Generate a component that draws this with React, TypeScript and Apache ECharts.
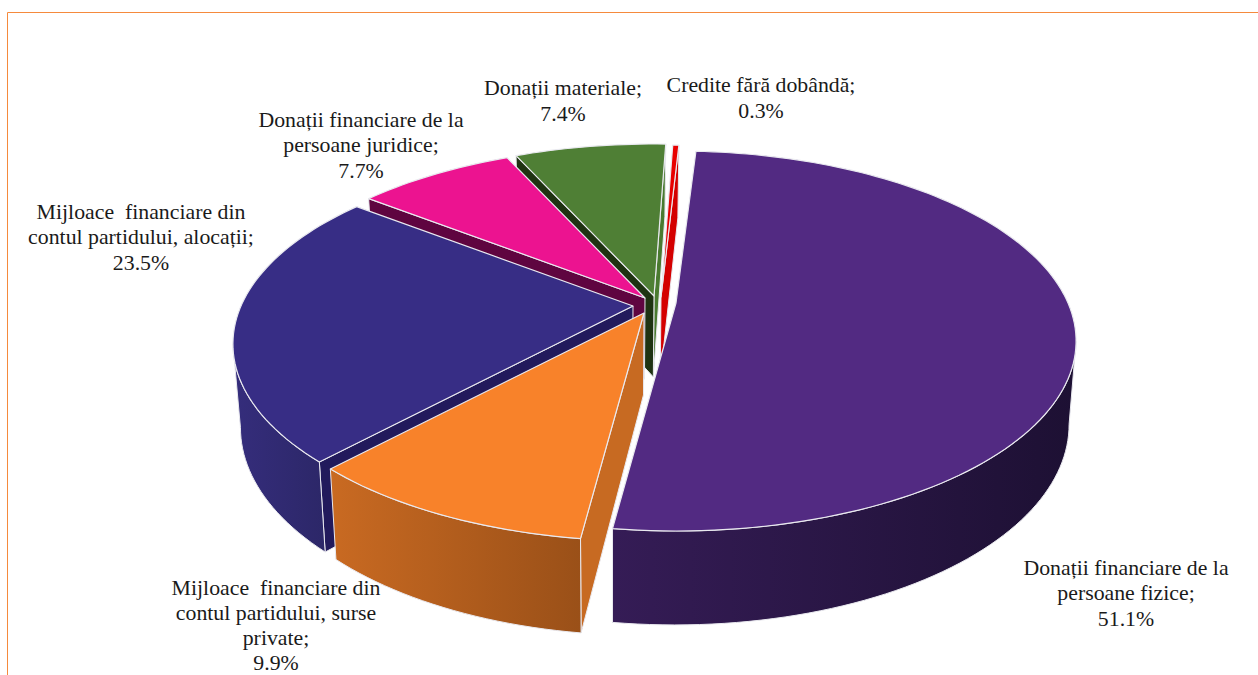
import React, { useEffect, useRef } from "react";
import * as echarts from "echarts";

// Data, clockwise from the top of the pie
const categories = [
  "Donații financiare de la\npersoane fizice;",
  "Mijloace  financiare din\ncontul partidului, surse\nprivate;",
  "Mijloace  financiare din\ncontul partidului, alocații;",
  "Donații financiare de la\npersoane juridice;",
  "Donații materiale;",
  "Credite fără dobândă;",
];
const values = [51.1, 9.9, 23.5, 7.7, 7.4, 0.3];

// Styles
const topColors = ["#522a82", "#f8822a", "#372d85", "#ec1390", "#4f7f35", "#e80000"];
const wallFrom = ["#351c56", "#c96a22", "#352d7c", "#5f0540", "#3c6428", "#d40000"];
const wallTo = ["#1d1033", "#9a5018", "#2c2768", "#5f0540", "#3c6428", "#d40000"];
const startEdgeWall = ["#2a1a48", "#c76a22", "#221a5c", "#5f0540", "#1f3312", "#d40000"];
const endEdgeWall = ["#2a1a48", "#c76a22", "#221a5c", "#5f0540", "#4a7a30", "#d40000"];
const showStartWall = [false, true, true, true, true, false];
const showEndWall = [false, false, false, false, true, true];
const showOuterWall = [true, true, true, false, false, false];
const explodeX = [28, -4, -15, -3, 6, 13];
const explodeY = [-1, 9, 2, -6, -8, -7];
const labelX = [1126, 276, 141, 361, 563, 761];
const labelY = [593, 625, 237, 145, 101, 98];
const labelLineHeight = [25.5, 25, 25.5, 25.5, 25.5, 25.5];
const paintOrder = [4, 5, 3, 2, 1, 0];

const CX = 648, CY = 304, RX = 392, RY = 182.4, K = 0.2;
const START_DEG = 3.5;
const FLOOR_X0 = 610, FLOOR_SX_LEFT = 0.98, FLOOR_SX_RIGHT = 0.985;
const DEPTH = 81, DEPTH_SLOPE = 0.055, DEPTH_Y0 = 296;
const EDGE = "#e9e9ef";
const FONT = '"Liberation Serif", serif';

const toRad = (d: number) => (d * Math.PI) / 180;
// Angles at which the projected rim is widest: the outer wall only shows between them.
const WALL_MIN = (Math.acos(-K) * 180) / Math.PI;
const WALL_MAX = 360 - WALL_MIN;

const starts: number[] = [];
values.reduce((acc, v, i) => {
  starts[i] = acc;
  return acc + (v / 100) * 360;
}, START_DEG);

function project(deg: number, ax: number, ay: number): number[] {
  const t = toRad(deg);
  const w = 1 + K * Math.cos(t);
  return [ax + (RX * Math.sin(t)) / w, ay - (RY * Math.cos(t)) / w];
}
function floor(p: number[]): number[] {
  const sx = p[0] < FLOOR_X0 ? FLOOR_SX_LEFT : FLOOR_SX_RIGHT;
  return [
    FLOOR_X0 + (p[0] - FLOOR_X0) * sx,
    p[1] + DEPTH + (p[1] - DEPTH_Y0) * DEPTH_SLOPE,
  ];
}
function arcPoints(a0: number, a1: number, ax: number, ay: number): number[][] {
  const pts: number[][] = [];
  const steps = Math.max(2, Math.ceil((a1 - a0) / 1.5));
  for (let s = 0; s <= steps; s++) pts.push(project(a0 + ((a1 - a0) * s) / steps, ax, ay));
  return pts;
}

function renderSlice(params: any, api: any) {
  const i = api.value(1) as number;
  const value = api.value(0) as number;
  const a0 = starts[i];
  const a1 = a0 + (value / 100) * 360;
  const ax = CX + explodeX[i];
  const ay = CY + explodeY[i];
  const apex = [ax, ay];
  const arc = arcPoints(a0, a1, ax, ay);
  const first = arc[0];
  const last = arc[arc.length - 1];
  const poly = (points: number[][], fill: any, width = 1) => ({
    type: "polygon",
    silent: true,
    shape: { points },
    style: { fill, stroke: EDGE, lineWidth: width, lineJoin: "round" },
  });
  const children: any[] = [];
  if (showEndWall[i]) children.push(poly([apex, last, floor(last), floor(apex)], endEdgeWall[i]));
  if (showStartWall[i]) children.push(poly([apex, first, floor(first), floor(apex)], startEdgeWall[i]));
  if (showOuterWall[i]) {
    const wallArc = arcPoints(Math.max(a0, WALL_MIN), Math.min(a1, WALL_MAX), ax, ay);
    children.push(
      poly(
        wallArc.concat(wallArc.map(floor).reverse()),
        new echarts.graphic.LinearGradient(0, 0, 1, 0, [
          { offset: 0, color: wallFrom[i] },
          { offset: 1, color: wallTo[i] },
        ])
      )
    );
  }
  children.push(poly([apex, ...arc], topColors[i], 1.2));
  return { type: "group", children };
}

export default function App() {
  const ref = useRef<HTMLDivElement>(null);
  useEffect(() => {
    const chart = echarts.init(ref.current!, undefined, { renderer: "svg" });
    chart.setOption({
      animation: false,
      backgroundColor: "#ffffff",
      graphic: [
        { type: "line", silent: true, shape: { x1: 7.5, y1: 12.5, x2: 1258, y2: 12.5 }, style: { stroke: "#f58a3d", lineWidth: 1 } },
        { type: "line", silent: true, shape: { x1: 7.5, y1: 12.5, x2: 7.5, y2: 675 }, style: { stroke: "#f58a3d", lineWidth: 1 } },
        ...categories.map((name, i) => ({
          type: "text",
          silent: true,
          x: labelX[i],
          y: labelY[i],
          z: 10,
          style: {
            text: `${name}\n${values[i].toFixed(1)}%`,
            fill: "#1a1a1a",
            font: `21.8px ${FONT}`,
            lineHeight: labelLineHeight[i],
            align: "center",
            verticalAlign: "middle",
          },
        })),
      ],
      series: [
        {
          type: "custom",
          coordinateSystem: "none",
          silent: true,
          renderItem: renderSlice,
          data: paintOrder.map((i) => [values[i], i]),
        },
      ],
    });
    return () => chart.dispose();
  }, []);
  return <div ref={ref} style={{ position: "absolute", left: 0, top: 0, width: 1258, height: 675 }} />;
}
